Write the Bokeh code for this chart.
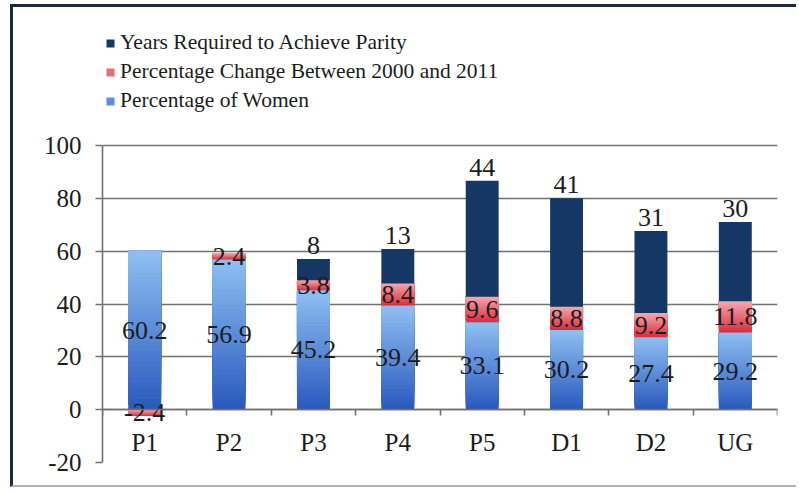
from bokeh.plotting import figure
from bokeh.models import (ColumnDataSource, FixedTicker, Legend, LegendItem, Range1d)
from bokeh.embed import file_html
from bokeh.resources import INLINE

# ---- data -------------------------------------------------------------
categories = ["P1", "P2", "P3", "P4", "P5", "D1", "D2", "UG"]
women_pct = [60.2, 56.9, 45.2, 39.4, 33.1, 30.2, 27.4, 29.2]
change_pct = [-2.4, 2.4, 3.8, 8.4, 9.6, 8.8, 9.2, 11.8]
parity_years = [0, 0, 8, 13, 44, 41, 31, 30]
y_ticks = [-20, 0, 20, 40, 60, 80, 100]

SERIF = "Liberation Serif"
TEXT = "#1c1c1c"
GRID = "#727272"
BAR_W = 0.39
N_SLICES = 30

# layout (pixels): the value axis spans 317 px; extra room above it holds the legend
CANVAS_W, CANVAS_H = 786, 483
BORDER_L, BORDER_R, BORDER_T, BORDER_B = 89, 22, 10, 28
AXIS_PX = 317
frame_h = CANVAS_H - BORDER_T - BORDER_B
y_lo, y_hi = y_ticks[0], y_ticks[-1]
y_view_top = y_lo + (y_hi - y_lo) * frame_h / AXIS_PX

xs = [i + 0.5 for i in range(len(categories))]

# stacked extents of every segment
women_lo = [0.0] * len(categories)
women_hi = list(women_pct)
change_lo = [w if c >= 0 else 0.0 for w, c in zip(women_pct, change_pct)]
change_hi = [w + c if c >= 0 else c for w, c in zip(women_pct, change_pct)]
years_lo = [w + max(c, 0.0) for w, c in zip(women_pct, change_pct)]
years_hi = [lo + y for lo, y in zip(years_lo, parity_years)]


def _rgb(h):
    h = h.lstrip("#")
    return [int(h[i:i + 2], 16) for i in (0, 2, 4)]


def _mix(top, bottom, f):
    a, b = _rgb(top), _rgb(bottom)
    return "#%02x%02x%02x" % tuple(round(a[k] + (b[k] - a[k]) * f) for k in range(3))


def gradient_source(lows, highs, top_col, bottom_col, n=N_SLICES):
    """Shade each segment top->bottom: every slice runs from its own start up
    to the segment top and is drawn over the previous one, so no seams show."""
    d = dict(x=[], bottom=[], top=[], color=[])
    for x, lo, hi in zip(xs, lows, highs):
        if hi == lo:
            continue
        a, b = min(lo, hi), max(lo, hi)
        for k in range(n):
            s0 = a + (b - a) * k / n
            f = 1 - (k + 0.5) / n if n > 1 else 0.5
            d["x"].append(x)
            d["bottom"].append(s0)
            d["top"].append(b)
            d["color"].append(_mix(top_col, bottom_col, f))
    return ColumnDataSource(d)


p = figure(width=CANVAS_W, height=CANVAS_H,
           x_range=Range1d(0, len(categories)), y_range=Range1d(y_lo, y_view_top),
           output_backend="svg", toolbar_location=None,
           min_border_left=BORDER_L, min_border_right=BORDER_R,
           min_border_top=BORDER_T, min_border_bottom=BORDER_B)
p.outline_line_color = None
p.background_fill_color = "white"
p.border_fill_color = "white"
p.styles = {
    "border-top": "3px solid #1f2940",
    "border-left": "3px solid #1f2940",
    "border-bottom": "2px solid #aeb2ba",
    "margin-left": "10px",
    "margin-top": "4px",
}

# ---- axes & grid --------------------------------------------------------
p.xgrid.visible = False
p.ygrid.ticker = FixedTicker(ticks=y_ticks)
p.ygrid.grid_line_color = GRID
p.ygrid.grid_line_width = 1.6

yax = p.yaxis[0]
yax.ticker = FixedTicker(ticks=y_ticks)
yax.bounds = (y_lo, y_hi)
yax.major_label_overrides = {t: "%d" % t for t in y_ticks}
yax.axis_line_color = GRID
yax.axis_line_width = 1.6
yax.major_tick_line_color = GRID
yax.major_tick_line_width = 1.6
yax.major_tick_out = 7
yax.major_tick_in = 0
yax.minor_tick_line_color = None
yax.major_label_standoff = 14
yax.major_label_text_font = SERIF
yax.major_label_text_font_size = "25px"
yax.major_label_text_color = TEXT

xax = p.xaxis[0]
xax.fixed_location = 0
xax.ticker = FixedTicker(ticks=xs, minor_ticks=list(range(len(categories) + 1)))
xax.major_label_overrides = {x: c for x, c in zip(xs, categories)}
xax.axis_line_color = GRID
xax.axis_line_width = 1.6
xax.major_tick_line_color = None
xax.minor_tick_line_color = GRID
xax.minor_tick_line_width = 1.6
xax.minor_tick_out = 6
xax.minor_tick_in = 0
xax.major_label_standoff = 13
xax.major_label_text_font = SERIF
xax.major_label_text_font_size = "25px"
xax.major_label_text_color = TEXT

# ---- stacked bars ------------------------------------------------------
src_w = gradient_source(women_lo, women_hi, "#90c0f2", "#2858bd")
src_c = gradient_source(change_lo, change_hi, "#f5a8ae", "#da2c3d")
src_y = gradient_source(years_lo, years_hi, "#153766", "#153766", n=1)

kw = dict(x="x", bottom="bottom", top="top", width=BAR_W,
          fill_color="color", line_color=None)
r_w = p.vbar(source=src_w, **kw)
r_c = p.vbar(source=src_c, **kw)
r_y = p.vbar(source=src_y, **kw)

# ---- value labels ------------------------------------------------------
lab_w = ColumnDataSource(dict(x=xs, y=[(a + b) / 2 for a, b in zip(women_lo, women_hi)],
                              t=["%.1f" % v for v in women_pct]))
lab_c = ColumnDataSource(dict(x=xs, y=[(a + b) / 2 for a, b in zip(change_lo, change_hi)],
                              t=["%.1f" % v for v in change_pct]))
yrs = [(x, hi, "%d" % v) for x, hi, v in zip(xs, years_hi, parity_years) if v > 0]
lab_y = ColumnDataSource(dict(x=[a for a, _, _ in yrs], y=[b for _, b, _ in yrs],
                              t=[c for _, _, c in yrs]))

tkw = dict(x="x", y="y", text="t", text_font=SERIF, text_font_size="26px",
           text_color=TEXT, text_align="center")
p.text(source=lab_w, text_baseline="middle", **tkw)
p.text(source=lab_c, text_baseline="middle", **tkw)
p.text(source=lab_y, text_baseline="bottom", y_offset=-5, **tkw)

# ---- legend (in the free band above the value axis) ----------------------
mid = N_SLICES // 2
legend = Legend(items=[
    LegendItem(label="Years Required to Achieve Parity", renderers=[r_y], index=0),
    LegendItem(label="Percentage Change Between 2000 and 2011", renderers=[r_c], index=N_SLICES + mid),
    LegendItem(label="Percentage of Women", renderers=[r_w], index=mid),
], location=(3, 347), orientation="vertical",
    padding=0, margin=0, spacing=0, label_height=29,
    glyph_width=10, glyph_height=10, label_standoff=5,
    label_text_font=SERIF, label_text_font_size="21.5px", label_text_color=TEXT,
    border_line_color=None, background_fill_alpha=0)
p.add_layout(legend, "center")

open("out.html", "w").write(file_html(p, INLINE))
